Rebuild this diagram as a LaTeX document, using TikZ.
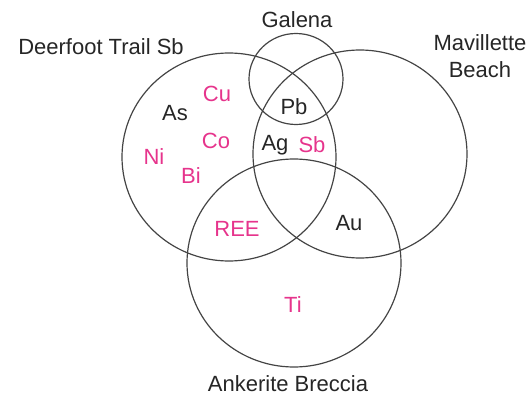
\documentclass[tikz,border=0pt]{standalone}
\usepackage{fontspec}
\setmainfont{Liberation Sans}
\definecolor{setline}{HTML}{444444}
\definecolor{elempink}{HTML}{E6348C}
\begin{document}
\begin{tikzpicture}[x=1pt,y=-1pt,
  setedge/.style={draw=setline,line width=1.2pt},
  lbl/.style={font=\fontsize{22}{26.5}\selectfont,text=black!85,inner sep=0pt},
  elem/.style={font=\fontsize{22}{25}\selectfont,inner sep=0pt},
  pink/.style={elem,text=elempink},
  dark/.style={elem,text=black!85}]
\useasboundingbox (0,0) rectangle (528,396);
% the four sets
\draw[setedge] (229,157) ellipse [x radius=107,y radius=104];
\draw[setedge] (296,79) ellipse [x radius=47,y radius=45.5];
\draw[setedge] (360,154) ellipse [x radius=107,y radius=104];
\draw[setedge] (294,263) ellipse [x radius=107,y radius=104];
% set names
\node[lbl] (galena) at (297,20) {Galena};
\node[lbl] (deerfoot) at (101,47) {Deerfoot Trail Sb};
\node[lbl,align=center] (mavillette) at (480,56) {Mavillette\\Beach};
\node[lbl] (ankerite) at (288,384) {Ankerite Breccia};
% elements
\node[pink] (cu) at (217,94) {Cu};
\node[dark] (as) at (175,113) {As};
\node[pink] (co) at (216,141) {Co};
\node[pink] (ni) at (154,157) {Ni};
\node[pink] (bi) at (191,176) {Bi};
\node[dark] (pb) at (294,107) {Pb};
\node[dark] (ag) at (275,145) {Ag};
\node[pink] (sb) at (312,145) {Sb};
\node[pink] (ree) at (237,229) {REE};
\node[dark] (au) at (349,223) {Au};
\node[pink] (ti) at (293,305) {Ti};
\end{tikzpicture}
\end{document}
